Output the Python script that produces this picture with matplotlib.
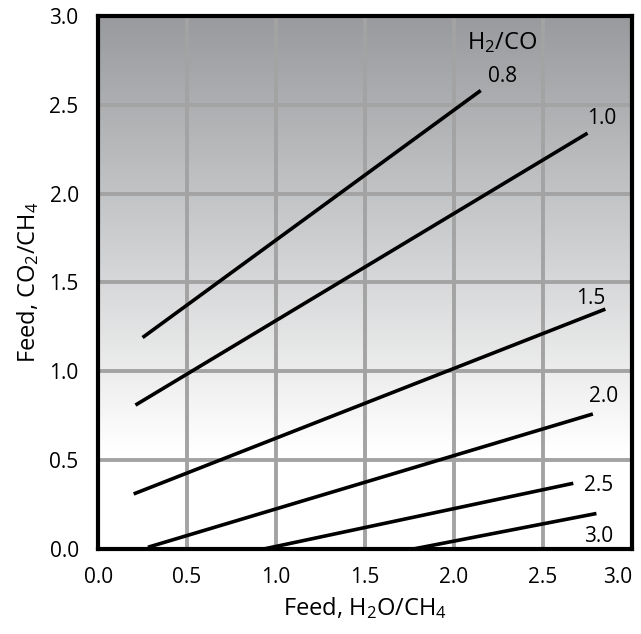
import numpy as np
import matplotlib
matplotlib.use("Agg")
from matplotlib import pyplot as plt
from matplotlib.colors import LinearSegmentedColormap

plt.rcParams['font.family'] = ['Open Sans', 'DejaVu Sans']
plt.rcParams['mathtext.fontset'] = 'custom'
plt.rcParams['mathtext.rm'] = 'Open Sans'
plt.rcParams['mathtext.it'] = 'Open Sans'

# H2/CO ratio lines: start and end points
ratio_labels = ['0.8', '1.0', '1.5', '2.0', '2.5', '3.0']
x_start = [0.25, 0.21, 0.20, 0.28, 0.93, 1.77]
y_start = [1.19, 0.81, 0.31, 0.01, 0.00, 0.00]
x_end = [2.15, 2.75, 2.85, 2.78, 2.67, 2.80]
y_end = [2.58, 2.34, 1.35, 0.76, 0.37, 0.20]
label_x = [2.27, 2.83, 2.77, 2.84, 2.81, 2.81]
label_y = [2.66, 2.42, 1.41, 0.86, 0.36, 0.07]

ticks = [0.0, 0.5, 1.0, 1.5, 2.0, 2.5, 3.0]

fig = plt.figure(figsize=(6.41, 6.34), dpi=100)
ax = fig.add_axes([0.153, 0.134, 0.833, 0.841])

# background gradient: grey at the top fading to white near y=0.55
cmap = LinearSegmentedColormap.from_list('bg', ['#ffffff', '#989a9d'])
yy = np.linspace(0, 3, 300)
shade = np.clip((yy - 0.55) / (3.0 - 0.55), 0, 1)
ax.imshow(shade[:, None], extent=[0, 3, 0, 3], origin='lower', aspect='auto',
          cmap=cmap, vmin=0, vmax=1, zorder=0)

for t in ticks[1:-1]:
    ax.axvline(t, color='#a3a3a3', lw=2.8, zorder=1)
    ax.axhline(t, color='#a3a3a3', lw=2.8, zorder=1)

for i, lab in enumerate(ratio_labels):
    ax.plot([x_start[i], x_end[i]], [y_start[i], y_end[i]], color='black',
            lw=2.6, solid_capstyle='butt', zorder=3)
    ax.text(label_x[i], label_y[i], lab, ha='center', va='center', fontsize=15, zorder=4)

ax.text(2.27, 2.85, 'H$_2$/CO', ha='center', va='center', fontsize=17, zorder=4)

ax.set_xlim(0, 3)
ax.set_ylim(0, 3)
ax.set_xticks(ticks)
ax.set_yticks(ticks)
ax.set_xticklabels([f'{t:.1f}' for t in ticks])
ax.set_yticklabels([f'{t:.1f}' for t in ticks])
ax.tick_params(length=0, labelsize=15)
ax.tick_params(axis='x', pad=13)
ax.tick_params(axis='y', pad=14)
ax.get_xticklabels()[-1].set_ha('right')
for s in ax.spines.values():
    s.set_linewidth(3)
    s.set_zorder(5)

ax.set_xlabel('Feed, H$_2$O/CH$_4$', fontsize=17, labelpad=5)
ax.set_ylabel('Feed, CO$_2$/CH$_4$', fontsize=17, labelpad=6)

fig.savefig('out.png', dpi=100)
